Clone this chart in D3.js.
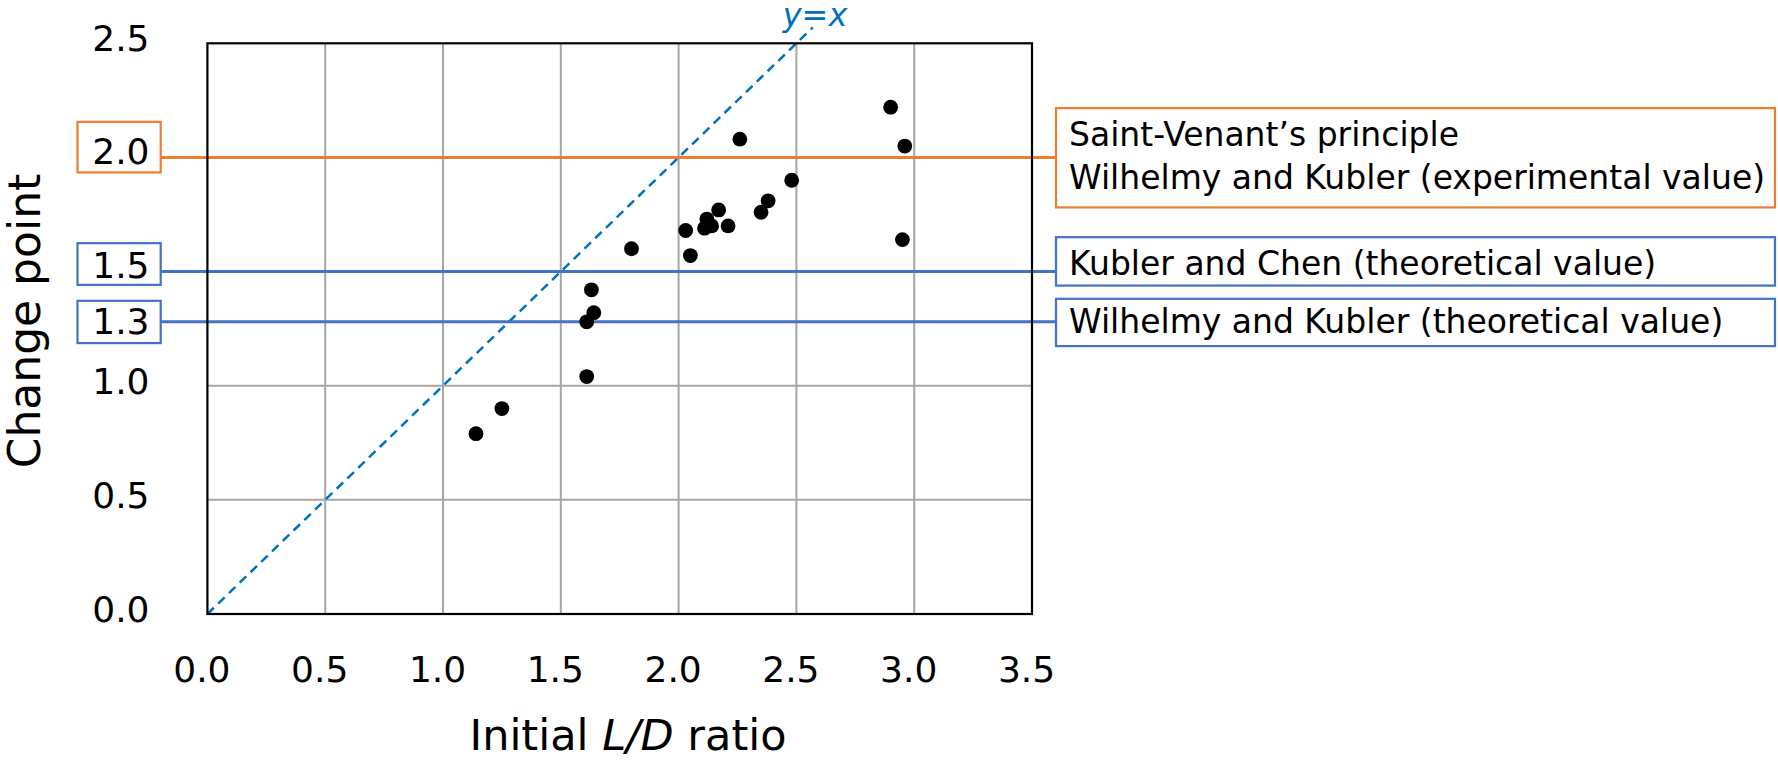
<!DOCTYPE html>
<html><head><meta charset="utf-8">
<script src="https://cdn.jsdelivr.net/npm/d3@7"></script>
<style>body{margin:0;background:#fff}svg{display:block}text{font-family:"DejaVu Sans",sans-serif}</style>
</head><body><svg id="c" width="1778" height="760"></svg>
<script>
// ---- data ----
const ldRatio     = [2.90, 2.96, 2.26, 2.48, 2.38, 2.35, 2.17, 2.12, 2.14, 2.11, 2.21, 2.03, 2.05, 1.80, 2.95, 1.63, 1.64, 1.61, 1.61, 1.14, 1.25];
const changePoint = [2.22, 2.05, 2.08, 1.90, 1.81, 1.76, 1.77, 1.73, 1.70, 1.69, 1.70, 1.68, 1.57, 1.60, 1.64, 1.42, 1.32, 1.28, 1.04, 0.79, 0.90];
const xTicks = [0, 0.5, 1.0, 1.5, 2.0, 2.5, 3.0, 3.5];
const yTicks = [0, 0.5, 1.0, 1.5, 2.0, 2.5];
const refValues = [2.0, 1.5, 1.28];
const refLabels = ["2.0", "1.5", "1.3"];
const refTexts = [
  ["Saint-Venant\u2019s principle", "Wilhelmy and Kubler (experimental value)"],
  ["Kubler and Chen (theoretical value)"],
  ["Wilhelmy and Kubler (theoretical value)"]
];
const refColors = ["#ED7D31", "#4472C4", "#4472C4"];
const diagonalEnd = 2.57;
const xTitle = ["Initial ", "L/D", " ratio"];
const yTitle = "Change point";

// ---- layout ----
const svg = d3.select("#c");
const x = d3.scaleLinear().domain([0, 3.5]).range([207.4, 1032]);
const y = d3.scaleLinear().domain([0, 2.5]).range([614, 43.3]);

// grid
const grid = svg.append("g");
grid.selectAll("line.v").data(xTicks.slice(1, -1)).join("line")
  .attr("x1", d => x(d)).attr("x2", d => x(d)).attr("y1", y(0)).attr("y2", y(2.5))
  .attr("stroke", "#A6A6A6").attr("stroke-width", 2);
grid.selectAll("line.h").data(yTicks.slice(1, -1)).join("line")
  .attr("x1", x(0)).attr("x2", x(3.5)).attr("y1", d => y(d)).attr("y2", d => y(d))
  .attr("stroke", "#A6A6A6").attr("stroke-width", 2);

// x axis labels
const xAxis = d3.axisBottom(x).tickValues(xTicks).tickFormat(d3.format(".1f")).tickSize(0);
const gx = svg.append("g").attr("transform", `translate(0,${y(0)})`).call(xAxis);
gx.select(".domain").remove();
gx.selectAll("text").attr("font-size", 36).attr("fill", "#000")
  .attr("font-family", "DejaVu Sans").attr("dy", null).attr("y", 67.7).attr("dx", -6);

// y axis labels (excluding boxed ones)
const yAxis = d3.axisLeft(y).tickValues(yTicks.filter(v => !refLabels.includes(d3.format(".1f")(v))))
  .tickFormat(d3.format(".1f")).tickSize(0);
const gy = svg.append("g").attr("transform", `translate(${x(0)},0)`).call(yAxis);
gy.select(".domain").remove();
gy.selectAll("text").attr("font-size", 36).attr("fill", "#000").attr("font-family", "DejaVu Sans")
  .attr("dy", null).attr("x", 149.5 - x(0)).attr("y", 7.5).attr("text-anchor", "end");

// diagonal y=x
svg.append("line")
  .attr("x1", x(0)).attr("y1", y(0)).attr("x2", x(diagonalEnd)).attr("y2", y(diagonalEnd))
  .attr("stroke", "#0070C0").attr("stroke-width", 2.5).attr("stroke-dasharray", "9,6");
svg.append("text").attr("x", 815).attr("y", 26).attr("text-anchor", "middle")
  .attr("font-size", 32).attr("font-style", "italic").attr("fill", "#0070C0").text("y=x");

// reference lines + boxes
const leftBox = [[-35.6, 15], [-28.4, 13.3], [-21, 21.3]];
const leftBase = [6.7, 6.6, 12.3];
const rightBox = [[-49.3, 50], [-34.4, 14], [-23, 24.3]];
const rightBase = [[-11.6, 32], [3.3], [11]];
refValues.forEach((v, i) => {
  const yy = y(v), c = refColors[i];
  svg.append("line").attr("x1", 160.7).attr("x2", 1056).attr("y1", yy).attr("y2", yy)
    .attr("stroke", c).attr("stroke-width", 3);
  svg.append("rect").attr("x", 77.5).attr("y", yy + leftBox[i][0]).attr("width", 83.2)
    .attr("height", leftBox[i][1] - leftBox[i][0]).attr("fill", "#fff").attr("stroke", c).attr("stroke-width", 2.2);
  svg.append("text").attr("x", 149.5).attr("y", yy + leftBase[i]).attr("text-anchor", "end")
    .attr("font-size", 36).attr("fill", "#000").text(refLabels[i]);
  svg.append("rect").attr("x", 1056).attr("y", yy + rightBox[i][0]).attr("width", 719)
    .attr("height", rightBox[i][1] - rightBox[i][0]).attr("fill", "#fff").attr("stroke", c).attr("stroke-width", 2.2);
  refTexts[i].forEach((t, j) => {
    svg.append("text").attr("x", 1069).attr("y", yy + rightBase[i][j])
      .attr("font-size", 33).attr("fill", "#000").text(t);
  });
});

// plot border
svg.append("rect").attr("x", x(0)).attr("y", y(2.5)).attr("width", x(3.5) - x(0)).attr("height", y(0) - y(2.5))
  .attr("fill", "none").attr("stroke", "#000").attr("stroke-width", 2.2);

// points
svg.append("g").selectAll("circle").data(ldRatio.map((d, i) => [d, changePoint[i]])).join("circle")
  .attr("cx", d => x(d[0])).attr("cy", d => y(d[1])).attr("r", 7.4).attr("fill", "#000");

// axis titles
const xt = svg.append("text").attr("x", 628).attr("y", 750).attr("text-anchor", "middle")
  .attr("font-size", 43).attr("fill", "#000");
xTitle.forEach((t, i) => xt.append("tspan").attr("font-style", i === 1 ? "italic" : "normal").text(t));
svg.append("text").attr("transform", "translate(39.5,321) rotate(-90)").attr("text-anchor", "middle")
  .attr("font-size", 44).attr("fill", "#000").text(yTitle);
</script></body></html>
